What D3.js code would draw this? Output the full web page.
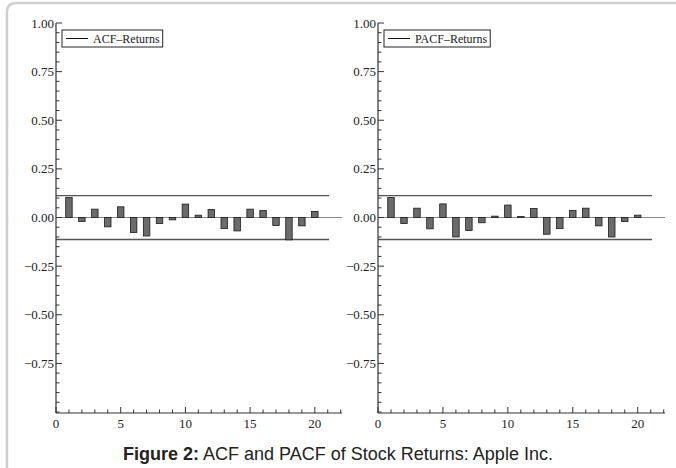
<!DOCTYPE html>
<html>
<head>
<meta charset="utf-8">
<script src="https://cdn.jsdelivr.net/npm/d3@7"></script>
<style>
  body { margin: 0; background: #fff; }
  svg text { fill: #222; }
</style>
</head>
<body>
<div id="chart"></div>
<script>
// lags and values
const lags = d3.range(1, 21);
const acfValues = [0.103, -0.021, 0.043, -0.048, 0.055, -0.077, -0.095, -0.031, -0.012, 0.069,
                   0.012, 0.041, -0.057, -0.069, 0.043, 0.036, -0.041, -0.115, -0.043, 0.031];
const pacfValues = [0.103, -0.031, 0.048, -0.058, 0.070, -0.100, -0.067, -0.027, 0.007, 0.064,
                    0.005, 0.046, -0.086, -0.057, 0.036, 0.048, -0.043, -0.100, -0.021, 0.012];
const seriesNames = ["ACF\u2013Returns", "PACF\u2013Returns"];
const confBand = 0.113;
const yTickLabels = [-0.75, -0.5, -0.25, 0, 0.25, 0.5, 0.75, 1.0];
const xTickLabels = [0, 5, 10, 15, 20];

const W = 676, H = 468;
const svg = d3.select('#chart').append('svg')
    .attr('width', W)
    .attr('height', H);

// frame
svg.append('path')
    .attr('d', 'M7,470 L7,12 Q7,3 16,3 L680,3')
    .attr('fill', 'none')
    .attr('stroke', '#cfcfcf')
    .attr('stroke-width', 2.5);

const y = d3.scaleLinear().domain([-1.005, 1]).range([413, 23]);

function panel(x0, x1, values, name) {
    const x = d3.scaleLinear().domain([0, 22.1]).range([x0, x1]);
    const g = svg.append('g');
    const serif = 'Liberation Serif, Times New Roman, serif';

    // zero line and confidence band
    g.append('line')
        .attr('x1', x(0)).attr('x2', x(22.1))
        .attr('y1', y(0)).attr('y2', y(0))
        .attr('stroke', '#888').attr('stroke-width', 1);
    [confBand, -confBand].forEach(b => {
        g.append('line')
            .attr('x1', x(0)).attr('x2', x(21.1))
            .attr('y1', y(b)).attr('y2', y(b))
            .attr('stroke', '#555').attr('stroke-width', 1.3);
    });

    // bars
    g.selectAll('rect.bar')
        .data(values)
        .enter()
        .append('rect')
        .attr('class', 'bar')
        .attr('x', (d, i) => x(lags[i] - 0.25))
        .attr('width', x(0.5) - x(0))
        .attr('y', d => y(Math.max(0, d)))
        .attr('height', d => Math.abs(y(d) - y(0)))
        .attr('fill', '#6b6b6b')
        .attr('stroke', '#1a1a1a')
        .attr('stroke-width', 0.8);

    // axes (ticks pointing inward)
    const yMinor = d3.range(-1.0, 1.0001, 0.05).map(v => +v.toFixed(2));
    g.selectAll('line.ytick')
        .data(yMinor)
        .enter()
        .append('line')
        .attr('x1', x0)
        .attr('x2', d => x0 + (yTickLabels.some(t => Math.abs(t - d) < 1e-6) ? 6 : 3.5))
        .attr('y1', d => y(d)).attr('y2', d => y(d))
        .attr('stroke', '#333').attr('stroke-width', 1);
    g.append('line')
        .attr('x1', x0).attr('x2', x0)
        .attr('y1', y(1)).attr('y2', 413)
        .attr('stroke', '#333').attr('stroke-width', 1.2);
    g.selectAll('text.ylab')
        .data(yTickLabels)
        .enter()
        .append('text')
        .attr('x', x0 - 2)
        .attr('y', d => y(d) + 4.5)
        .attr('text-anchor', 'end')
        .style('font-family', serif)
        .style('font-size', '13px')
        .text(d => d.toFixed(2).replace('-', '\u2212'));

    const xMinor = d3.range(0, 23);
    g.selectAll('line.xtick')
        .data(xMinor)
        .enter()
        .append('line')
        .attr('x1', d => x(d)).attr('x2', d => x(d))
        .attr('y1', 413)
        .attr('y2', d => 413 - (d % 5 === 0 ? 6 : 3.5))
        .attr('stroke', '#333').attr('stroke-width', 1);
    g.append('line')
        .attr('x1', x0).attr('x2', x(22.1))
        .attr('y1', 413).attr('y2', 413)
        .attr('stroke', '#333').attr('stroke-width', 1.2);
    g.selectAll('text.xlab')
        .data(xTickLabels)
        .enter()
        .append('text')
        .attr('x', d => x(d))
        .attr('y', 428)
        .attr('text-anchor', 'middle')
        .style('font-family', serif)
        .style('font-size', '13px')
        .text(d => d);

    // legend
    const lg = g.append('g').attr('transform', `translate(${x0 + 6},30)`);
    const txt = lg.append('text')
        .attr('x', 31).attr('y', 12.5)
        .style('font-family', serif)
        .style('font-size', '12px')
        .text(name);
    const tw = txt.node().getComputedTextLength();
    lg.insert('rect', 'text')
        .attr('x', 0).attr('y', 0)
        .attr('width', 31 + tw + 3).attr('height', 17)
        .attr('fill', '#fff').attr('stroke', '#222').attr('stroke-width', 1);
    lg.append('line')
        .attr('x1', 4).attr('x2', 26)
        .attr('y1', 8.5).attr('y2', 8.5)
        .attr('stroke', '#111').attr('stroke-width', 1);
}

panel(56, 342, acfValues, seriesNames[0]);
panel(378, 665, pacfValues, seriesNames[1]);

// caption
const cap = svg.append('text')
    .attr('x', 338)
    .attr('y', 460)
    .attr('text-anchor', 'middle')
    .style('font-family', 'Liberation Sans, Arial, sans-serif')
    .style('font-size', '18px');
cap.append('tspan').style('font-weight', 'bold').text('Figure 2:');
cap.append('tspan').text(' ACF and PACF of Stock Returns: Apple Inc.');
</script>
</body>
</html>
